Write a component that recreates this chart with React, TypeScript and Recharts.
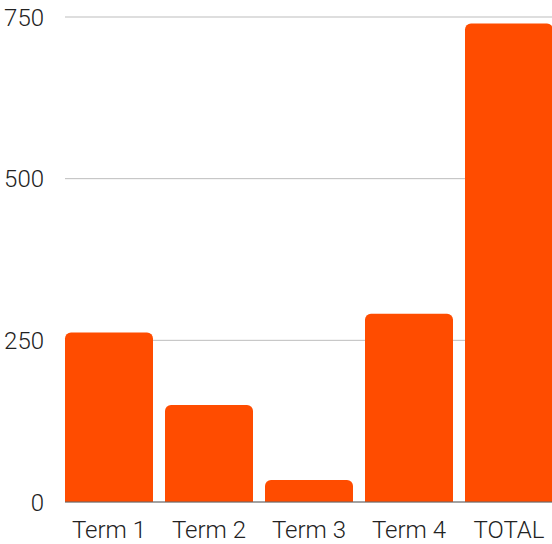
import { BarChart, Bar, XAxis, YAxis, CartesianGrid } from 'recharts';

const terms = ['Term 1', 'Term 2', 'Term 3', 'Term 4', 'TOTAL'];
const amounts = [262, 150, 34, 291, 740];
const yTicks = [0, 250, 500, 750];

const data = terms.map((name, i) => ({ name, value: amounts[i] }));

const font = { fontFamily: 'Roboto', fontWeight: 300, fontSize: 24, fill: '#222' };

export default function App() {
    return (
        <div style = {{ position: 'absolute', left: 0, top: 0, width: 552, height: 544 }}>
            <BarChart
                width = {552}
                height = {544}
                data = {data}
                margin = {{ top: 17, right: 0, bottom: 0, left: 0 }}
                barCategoryGap = {6}
            >
                <CartesianGrid horizontal = {true} vertical = {false} stroke = '#bdbdbd' />
                <XAxis
                    dataKey = 'name'
                    height = {42}
                    padding = {{ left: -6, right: -7 }}
                    tickLine = {false}
                    tickSize = {0}
                    tickMargin = {19}
                    axisLine = {{ stroke: '#666' }}
                    tick = {font}
                    interval = {0}
                />
                <YAxis
                    width = {65}
                    domain = {[0, 750]}
                    ticks = {yTicks}
                    axisLine = {false}
                    tickLine = {false}
                    tickSize = {0}
                    tickMargin = {21}
                    tick = {font}
                />
                <Bar dataKey = 'value' fill = '#FF4C00' radius = {[6, 6, 0, 0]} isAnimationActive = {false} />
            </BarChart>
        </div>
    );
}
